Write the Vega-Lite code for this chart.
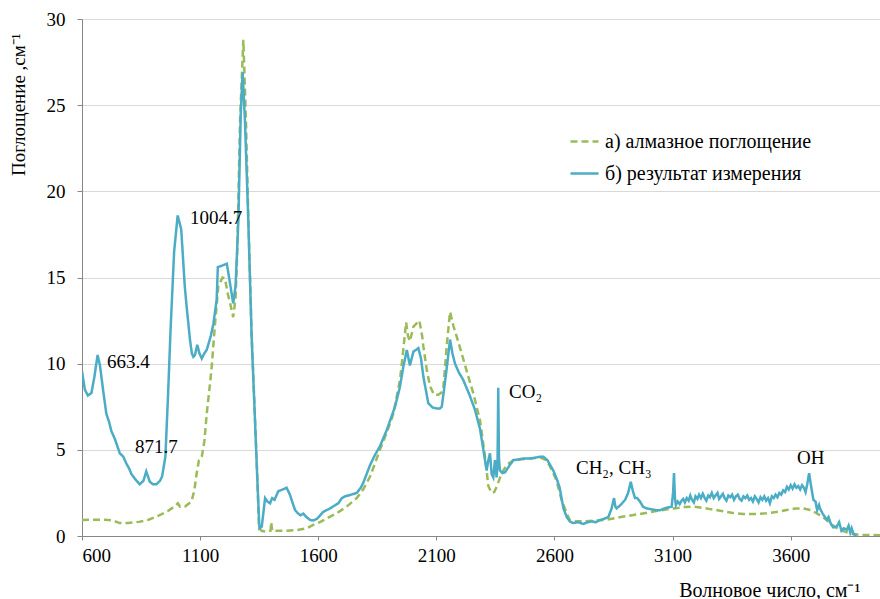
{
  "$schema": "https://vega.github.io/schema/vega-lite/v6.json",
  "width": 798,
  "height": 517,
  "autosize": {"type": "none"},
  "padding": {"left": 82, "top": 19, "right": 0, "bottom": 63},
  "background": "white",
  "config": {
    "view": {"stroke": null},
    "font": "Liberation Serif",
    "axis": {"labelFont": "Liberation Serif", "titleFont": "Liberation Serif", "labelColor": "#000", "titleColor": "#000", "titleFontWeight": "normal", "labelFontSize": 19, "titleFontSize": 19}
  },
  "datasets": {
    "spec": [
      {"wn": 600, "a": 0.93, "s": "а) алмазное поглощение"},
      {"wn": 640, "a": 0.95, "s": "а) алмазное поглощение"},
      {"wn": 696, "a": 0.95, "s": "а) алмазное поглощение"},
      {"wn": 730, "a": 0.9, "s": "а) алмазное поглощение"},
      {"wn": 760, "a": 0.75, "s": "а) алмазное поглощение"},
      {"wn": 795, "a": 0.75, "s": "а) алмазное поглощение"},
      {"wn": 840, "a": 0.82, "s": "а) алмазное поглощение"},
      {"wn": 879, "a": 0.93, "s": "а) алмазное поглощение"},
      {"wn": 920, "a": 1.15, "s": "а) алмазное поглощение"},
      {"wn": 964, "a": 1.45, "s": "а) алмазное поглощение"},
      {"wn": 990, "a": 1.7, "s": "а) алмазное поглощение"},
      {"wn": 1006, "a": 1.9, "s": "а) алмазное поглощение"},
      {"wn": 1015, "a": 1.7, "s": "а) алмазное поглощение"},
      {"wn": 1035, "a": 1.7, "s": "а) алмазное поглощение"},
      {"wn": 1063, "a": 2.0, "s": "а) алмазное поглощение"},
      {"wn": 1075, "a": 2.6, "s": "а) алмазное поглощение"},
      {"wn": 1085, "a": 3.6, "s": "а) алмазное поглощение"},
      {"wn": 1095, "a": 4.4, "s": "а) алмазное поглощение"},
      {"wn": 1107, "a": 4.6, "s": "а) алмазное поглощение"},
      {"wn": 1118, "a": 5.5, "s": "а) алмазное поглощение"},
      {"wn": 1128, "a": 7.1, "s": "а) алмазное поглощение"},
      {"wn": 1140, "a": 8.6, "s": "а) алмазное поглощение"},
      {"wn": 1149, "a": 9.8, "s": "а) алмазное поглощение"},
      {"wn": 1163, "a": 12.3, "s": "а) алмазное поглощение"},
      {"wn": 1177, "a": 14.5, "s": "а) алмазное поглощение"},
      {"wn": 1195, "a": 15.0, "s": "а) алмазное поглощение"},
      {"wn": 1205, "a": 14.95, "s": "а) алмазное поглощение"},
      {"wn": 1218, "a": 14.0, "s": "а) алмазное поглощение"},
      {"wn": 1227, "a": 13.5, "s": "а) алмазное поглощение"},
      {"wn": 1240, "a": 12.7, "s": "а) алмазное поглощение"},
      {"wn": 1250, "a": 13.8, "s": "а) алмазное поглощение"},
      {"wn": 1257, "a": 16.4, "s": "а) алмазное поглощение"},
      {"wn": 1269, "a": 24.1, "s": "а) алмазное поглощение"},
      {"wn": 1283, "a": 28.8, "s": "а) алмазное поглощение"},
      {"wn": 1294, "a": 24.1, "s": "а) алмазное поглощение"},
      {"wn": 1304, "a": 18.5, "s": "а) алмазное поглощение"},
      {"wn": 1318, "a": 11.7, "s": "а) алмазное поглощение"},
      {"wn": 1330, "a": 7.6, "s": "а) алмазное поглощение"},
      {"wn": 1340, "a": 4.2, "s": "а) алмазное поглощение"},
      {"wn": 1349, "a": 0.5, "s": "а) алмазное поглощение"},
      {"wn": 1360, "a": 0.3, "s": "а) алмазное поглощение"},
      {"wn": 1382, "a": 0.25, "s": "а) алмазное поглощение"},
      {"wn": 1398, "a": 0.3, "s": "а) алмазное поглощение"},
      {"wn": 1401, "a": 0.8, "s": "а) алмазное поглощение"},
      {"wn": 1405, "a": 0.3, "s": "а) алмазное поглощение"},
      {"wn": 1438, "a": 0.3, "s": "а) алмазное поглощение"},
      {"wn": 1466, "a": 0.3, "s": "а) алмазное поглощение"},
      {"wn": 1510, "a": 0.35, "s": "а) алмазное поглощение"},
      {"wn": 1551, "a": 0.45, "s": "а) алмазное поглощение"},
      {"wn": 1579, "a": 0.65, "s": "а) алмазное поглощение"},
      {"wn": 1607, "a": 0.8, "s": "а) алмазное поглощение"},
      {"wn": 1640, "a": 1.05, "s": "а) алмазное поглощение"},
      {"wn": 1678, "a": 1.32, "s": "а) алмазное поглощение"},
      {"wn": 1720, "a": 1.7, "s": "а) алмазное поглощение"},
      {"wn": 1763, "a": 2.2, "s": "а) алмазное поглощение"},
      {"wn": 1790, "a": 2.7, "s": "а) алмазное поглощение"},
      {"wn": 1819, "a": 3.44, "s": "а) алмазное поглощение"},
      {"wn": 1840, "a": 4.2, "s": "а) алмазное поглощение"},
      {"wn": 1861, "a": 5.0, "s": "а) алмазное поглощение"},
      {"wn": 1890, "a": 6.0, "s": "а) алмазное поглощение"},
      {"wn": 1918, "a": 7.1, "s": "а) алмазное поглощение"},
      {"wn": 1946, "a": 9.05, "s": "а) алмазное поглощение"},
      {"wn": 1960, "a": 10.8, "s": "а) алмазное поглощение"},
      {"wn": 1972, "a": 12.4, "s": "а) алмазное поглощение"},
      {"wn": 1980, "a": 11.6, "s": "а) алмазное поглощение"},
      {"wn": 1988, "a": 11.3, "s": "а) алмазное поглощение"},
      {"wn": 2003, "a": 12.15, "s": "а) алмазное поглощение"},
      {"wn": 2028, "a": 12.5, "s": "а) алмазное поглощение"},
      {"wn": 2040, "a": 11.6, "s": "а) алмазное поглощение"},
      {"wn": 2045, "a": 11.0, "s": "а) алмазное поглощение"},
      {"wn": 2060, "a": 9.6, "s": "а) алмазное поглощение"},
      {"wn": 2073, "a": 8.7, "s": "а) алмазное поглощение"},
      {"wn": 2090, "a": 8.2, "s": "а) алмазное поглощение"},
      {"wn": 2108, "a": 8.2, "s": "а) алмазное поглощение"},
      {"wn": 2120, "a": 8.3, "s": "а) алмазное поглощение"},
      {"wn": 2129, "a": 8.5, "s": "а) алмазное поглощение"},
      {"wn": 2145, "a": 11.2, "s": "а) алмазное поглощение"},
      {"wn": 2158, "a": 13.0, "s": "а) алмазное поглощение"},
      {"wn": 2172, "a": 12.2, "s": "а) алмазное поглощение"},
      {"wn": 2190, "a": 11.4, "s": "а) алмазное поглощение"},
      {"wn": 2207, "a": 10.6, "s": "а) алмазное поглощение"},
      {"wn": 2230, "a": 9.5, "s": "а) алмазное поглощение"},
      {"wn": 2256, "a": 8.3, "s": "а) алмазное поглощение"},
      {"wn": 2285, "a": 6.7, "s": "а) алмазное поглощение"},
      {"wn": 2306, "a": 4.6, "s": "а) алмазное поглощение"},
      {"wn": 2320, "a": 2.9, "s": "а) алмазное поглощение"},
      {"wn": 2334, "a": 2.5, "s": "а) алмазное поглощение"},
      {"wn": 2345, "a": 2.55, "s": "а) алмазное поглощение"},
      {"wn": 2355, "a": 2.85, "s": "а) алмазное поглощение"},
      {"wn": 2370, "a": 3.4, "s": "а) алмазное поглощение"},
      {"wn": 2383, "a": 3.8, "s": "а) алмазное поглощение"},
      {"wn": 2400, "a": 4.15, "s": "а) алмазное поглощение"},
      {"wn": 2426, "a": 4.4, "s": "а) алмазное поглощение"},
      {"wn": 2460, "a": 4.45, "s": "а) алмазное поглощение"},
      {"wn": 2500, "a": 4.5, "s": "а) алмазное поглощение"},
      {"wn": 2540, "a": 4.55, "s": "а) алмазное поглощение"},
      {"wn": 2567, "a": 4.4, "s": "а) алмазное поглощение"},
      {"wn": 2590, "a": 3.8, "s": "а) алмазное поглощение"},
      {"wn": 2609, "a": 3.2, "s": "а) алмазное поглощение"},
      {"wn": 2630, "a": 2.1, "s": "а) алмазное поглощение"},
      {"wn": 2652, "a": 1.3, "s": "а) алмазное поглощение"},
      {"wn": 2666, "a": 0.9, "s": "а) алмазное поглощение"},
      {"wn": 2690, "a": 0.85, "s": "а) алмазное поглощение"},
      {"wn": 2730, "a": 0.85, "s": "а) алмазное поглощение"},
      {"wn": 2780, "a": 0.9, "s": "а) алмазное поглощение"},
      {"wn": 2821, "a": 0.95, "s": "а) алмазное поглощение"},
      {"wn": 2880, "a": 1.1, "s": "а) алмазное поглощение"},
      {"wn": 2962, "a": 1.28, "s": "а) алмазное поглощение"},
      {"wn": 3030, "a": 1.45, "s": "а) алмазное поглощение"},
      {"wn": 3103, "a": 1.6, "s": "а) алмазное поглощение"},
      {"wn": 3150, "a": 1.68, "s": "а) алмазное поглощение"},
      {"wn": 3188, "a": 1.7, "s": "а) алмазное поглощение"},
      {"wn": 3216, "a": 1.66, "s": "а) алмазное поглощение"},
      {"wn": 3260, "a": 1.56, "s": "а) алмазное поглощение"},
      {"wn": 3301, "a": 1.47, "s": "а) алмазное поглощение"},
      {"wn": 3350, "a": 1.35, "s": "а) алмазное поглощение"},
      {"wn": 3399, "a": 1.27, "s": "а) алмазное поглощение"},
      {"wn": 3450, "a": 1.28, "s": "а) алмазное поглощение"},
      {"wn": 3499, "a": 1.32, "s": "а) алмазное поглощение"},
      {"wn": 3550, "a": 1.42, "s": "а) алмазное поглощение"},
      {"wn": 3583, "a": 1.51, "s": "а) алмазное поглощение"},
      {"wn": 3620, "a": 1.6, "s": "а) алмазное поглощение"},
      {"wn": 3653, "a": 1.6, "s": "а) алмазное поглощение"},
      {"wn": 3685, "a": 1.5, "s": "а) алмазное поглощение"},
      {"wn": 3710, "a": 1.32, "s": "а) алмазное поглощение"},
      {"wn": 3730, "a": 1.15, "s": "а) алмазное поглощение"},
      {"wn": 3752, "a": 0.93, "s": "а) алмазное поглощение"},
      {"wn": 3780, "a": 0.6, "s": "а) алмазное поглощение"},
      {"wn": 3809, "a": 0.35, "s": "а) алмазное поглощение"},
      {"wn": 3850, "a": 0.15, "s": "а) алмазное поглощение"},
      {"wn": 3894, "a": 0.06, "s": "а) алмазное поглощение"},
      {"wn": 3978, "a": 0.05, "s": "а) алмазное поглощение"},

      {"wn": 600, "a": 9.2, "s": "б) результат измерения"},
      {"wn": 603, "a": 9.3, "s": "б) результат измерения"},
      {"wn": 612, "a": 8.5, "s": "б) результат измерения"},
      {"wn": 625, "a": 8.15, "s": "б) результат измерения"},
      {"wn": 640, "a": 8.3, "s": "б) результат измерения"},
      {"wn": 652, "a": 9.2, "s": "б) результат измерения"},
      {"wn": 666, "a": 10.5, "s": "б) результат измерения"},
      {"wn": 676, "a": 9.9, "s": "б) результат измерения"},
      {"wn": 689, "a": 8.5, "s": "б) результат измерения"},
      {"wn": 703, "a": 7.1, "s": "б) результат измерения"},
      {"wn": 715, "a": 6.6, "s": "б) результат измерения"},
      {"wn": 724, "a": 6.1, "s": "б) результат измерения"},
      {"wn": 740, "a": 5.6, "s": "б) результат измерения"},
      {"wn": 760, "a": 4.8, "s": "б) результат измерения"},
      {"wn": 775, "a": 4.6, "s": "б) результат измерения"},
      {"wn": 788, "a": 4.2, "s": "б) результат измерения"},
      {"wn": 800, "a": 3.9, "s": "б) результат измерения"},
      {"wn": 809, "a": 3.6, "s": "б) результат измерения"},
      {"wn": 825, "a": 3.3, "s": "б) результат измерения"},
      {"wn": 844, "a": 3.0, "s": "б) результат измерения"},
      {"wn": 860, "a": 3.2, "s": "б) результат измерения"},
      {"wn": 872, "a": 3.75, "s": "б) результат измерения"},
      {"wn": 887, "a": 3.15, "s": "б) результат измерения"},
      {"wn": 900, "a": 3.0, "s": "б) результат измерения"},
      {"wn": 915, "a": 3.0, "s": "б) результат измерения"},
      {"wn": 930, "a": 3.2, "s": "б) результат измерения"},
      {"wn": 939, "a": 3.45, "s": "б) результат измерения"},
      {"wn": 953, "a": 4.6, "s": "б) результат измерения"},
      {"wn": 964, "a": 8.1, "s": "б) результат измерения"},
      {"wn": 975, "a": 12.0, "s": "б) результат измерения"},
      {"wn": 990, "a": 16.5, "s": "б) результат измерения"},
      {"wn": 1005, "a": 18.6, "s": "б) результат измерения"},
      {"wn": 1020, "a": 17.8, "s": "б) результат измерения"},
      {"wn": 1035, "a": 14.5, "s": "б) результат измерения"},
      {"wn": 1043, "a": 13.3, "s": "б) результат измерения"},
      {"wn": 1057, "a": 11.4, "s": "б) результат измерения"},
      {"wn": 1065, "a": 10.6, "s": "б) результат измерения"},
      {"wn": 1071, "a": 10.4, "s": "б) результат измерения"},
      {"wn": 1078, "a": 10.5, "s": "б) результат измерения"},
      {"wn": 1088, "a": 11.1, "s": "б) результат измерения"},
      {"wn": 1097, "a": 10.6, "s": "б) результат измерения"},
      {"wn": 1107, "a": 10.3, "s": "б) результат измерения"},
      {"wn": 1118, "a": 10.6, "s": "б) результат измерения"},
      {"wn": 1128, "a": 10.8, "s": "б) результат измерения"},
      {"wn": 1145, "a": 11.6, "s": "б) результат измерения"},
      {"wn": 1156, "a": 12.3, "s": "б) результат измерения"},
      {"wn": 1170, "a": 13.7, "s": "б) результат измерения"},
      {"wn": 1175, "a": 15.6, "s": "б) результат измерения"},
      {"wn": 1195, "a": 15.7, "s": "б) результат измерения"},
      {"wn": 1213, "a": 15.8, "s": "б) результат измерения"},
      {"wn": 1225, "a": 14.8, "s": "б) результат измерения"},
      {"wn": 1240, "a": 13.5, "s": "б) результат измерения"},
      {"wn": 1250, "a": 14.5, "s": "б) результат измерения"},
      {"wn": 1262, "a": 18.3, "s": "б) результат измерения"},
      {"wn": 1272, "a": 24.5, "s": "б) результат измерения"},
      {"wn": 1280, "a": 26.9, "s": "б) результат измерения"},
      {"wn": 1290, "a": 24.0, "s": "б) результат измерения"},
      {"wn": 1304, "a": 18.3, "s": "б) результат измерения"},
      {"wn": 1318, "a": 11.6, "s": "б) результат измерения"},
      {"wn": 1330, "a": 7.5, "s": "б) результат измерения"},
      {"wn": 1340, "a": 4.0, "s": "б) результат измерения"},
      {"wn": 1351, "a": 0.45, "s": "б) результат измерения"},
      {"wn": 1361, "a": 0.55, "s": "б) результат измерения"},
      {"wn": 1375, "a": 2.2, "s": "б) результат измерения"},
      {"wn": 1385, "a": 2.0, "s": "б) результат измерения"},
      {"wn": 1396, "a": 1.9, "s": "б) результат измерения"},
      {"wn": 1405, "a": 2.2, "s": "б) результат измерения"},
      {"wn": 1415, "a": 2.1, "s": "б) результат измерения"},
      {"wn": 1431, "a": 2.6, "s": "б) результат измерения"},
      {"wn": 1450, "a": 2.7, "s": "б) результат измерения"},
      {"wn": 1466, "a": 2.8, "s": "б) результат измерения"},
      {"wn": 1480, "a": 2.4, "s": "б) результат измерения"},
      {"wn": 1492, "a": 1.9, "s": "б) результат измерения"},
      {"wn": 1502, "a": 1.5, "s": "б) результат измерения"},
      {"wn": 1515, "a": 1.3, "s": "б) результат измерения"},
      {"wn": 1525, "a": 1.2, "s": "б) результат измерения"},
      {"wn": 1537, "a": 1.3, "s": "б) результат измерения"},
      {"wn": 1550, "a": 1.1, "s": "б) результат измерения"},
      {"wn": 1566, "a": 0.93, "s": "б) результат измерения"},
      {"wn": 1579, "a": 0.9, "s": "б) результат измерения"},
      {"wn": 1595, "a": 1.0, "s": "б) результат измерения"},
      {"wn": 1621, "a": 1.4, "s": "б) результат измерения"},
      {"wn": 1650, "a": 1.6, "s": "б) результат измерения"},
      {"wn": 1685, "a": 1.9, "s": "б) результат измерения"},
      {"wn": 1700, "a": 2.2, "s": "б) результат измерения"},
      {"wn": 1713, "a": 2.3, "s": "б) результат измерения"},
      {"wn": 1740, "a": 2.4, "s": "б) результат измерения"},
      {"wn": 1763, "a": 2.5, "s": "б) результат измерения"},
      {"wn": 1780, "a": 2.8, "s": "б) результат измерения"},
      {"wn": 1791, "a": 3.1, "s": "б) результат измерения"},
      {"wn": 1805, "a": 3.6, "s": "б) результат измерения"},
      {"wn": 1819, "a": 4.1, "s": "б) результат измерения"},
      {"wn": 1840, "a": 4.7, "s": "б) результат измерения"},
      {"wn": 1861, "a": 5.2, "s": "б) результат измерения"},
      {"wn": 1890, "a": 6.15, "s": "б) результат измерения"},
      {"wn": 1925, "a": 7.5, "s": "б) результат измерения"},
      {"wn": 1945, "a": 8.6, "s": "б) результат измерения"},
      {"wn": 1960, "a": 9.8, "s": "б) результат измерения"},
      {"wn": 1975, "a": 10.8, "s": "б) результат измерения"},
      {"wn": 1988, "a": 9.9, "s": "б) результат измерения"},
      {"wn": 2003, "a": 10.7, "s": "б) результат измерения"},
      {"wn": 2024, "a": 10.9, "s": "б) результат измерения"},
      {"wn": 2035, "a": 10.3, "s": "б) результат измерения"},
      {"wn": 2045, "a": 9.25, "s": "б) результат измерения"},
      {"wn": 2066, "a": 7.7, "s": "б) результат измерения"},
      {"wn": 2085, "a": 7.45, "s": "б) результат измерения"},
      {"wn": 2101, "a": 7.4, "s": "б) результат измерения"},
      {"wn": 2115, "a": 7.4, "s": "б) результат измерения"},
      {"wn": 2123, "a": 7.5, "s": "б) результат измерения"},
      {"wn": 2141, "a": 9.4, "s": "б) результат измерения"},
      {"wn": 2158, "a": 11.4, "s": "б) результат измерения"},
      {"wn": 2168, "a": 10.6, "s": "б) результат измерения"},
      {"wn": 2179, "a": 10.0, "s": "б) результат измерения"},
      {"wn": 2195, "a": 9.5, "s": "б) результат измерения"},
      {"wn": 2214, "a": 9.05, "s": "б) результат измерения"},
      {"wn": 2240, "a": 8.2, "s": "б) результат измерения"},
      {"wn": 2264, "a": 7.3, "s": "б) результат измерения"},
      {"wn": 2285, "a": 6.2, "s": "б) результат измерения"},
      {"wn": 2299, "a": 5.0, "s": "б) результат измерения"},
      {"wn": 2313, "a": 3.8, "s": "б) результат измерения"},
      {"wn": 2320, "a": 4.4, "s": "б) результат измерения"},
      {"wn": 2327, "a": 4.8, "s": "б) результат измерения"},
      {"wn": 2334, "a": 3.6, "s": "б) результат измерения"},
      {"wn": 2341, "a": 3.4, "s": "б) результат измерения"},
      {"wn": 2348, "a": 4.4, "s": "б) результат измерения"},
      {"wn": 2355, "a": 3.4, "s": "б) результат измерения"},
      {"wn": 2359, "a": 4.2, "s": "б) результат измерения"},
      {"wn": 2362, "a": 8.6, "s": "б) результат измерения"},
      {"wn": 2365, "a": 4.5, "s": "б) результат измерения"},
      {"wn": 2369, "a": 3.8, "s": "б) результат измерения"},
      {"wn": 2380, "a": 3.65, "s": "б) результат измерения"},
      {"wn": 2391, "a": 3.7, "s": "б) результат измерения"},
      {"wn": 2410, "a": 4.1, "s": "б) результат измерения"},
      {"wn": 2426, "a": 4.4, "s": "б) результат измерения"},
      {"wn": 2450, "a": 4.45, "s": "б) результат измерения"},
      {"wn": 2470, "a": 4.5, "s": "б) результат измерения"},
      {"wn": 2496, "a": 4.5, "s": "б) результат измерения"},
      {"wn": 2520, "a": 4.55, "s": "б) результат измерения"},
      {"wn": 2540, "a": 4.6, "s": "б) результат измерения"},
      {"wn": 2553, "a": 4.6, "s": "б) результат измерения"},
      {"wn": 2570, "a": 4.4, "s": "б) результат измерения"},
      {"wn": 2595, "a": 3.8, "s": "б) результат измерения"},
      {"wn": 2610, "a": 3.3, "s": "б) результат измерения"},
      {"wn": 2622, "a": 2.8, "s": "б) результат измерения"},
      {"wn": 2638, "a": 1.6, "s": "б) результат измерения"},
      {"wn": 2652, "a": 1.1, "s": "б) результат измерения"},
      {"wn": 2666, "a": 0.83, "s": "б) результат измерения"},
      {"wn": 2680, "a": 0.75, "s": "б) результат измерения"},
      {"wn": 2700, "a": 0.8, "s": "б) результат измерения"},
      {"wn": 2722, "a": 0.7, "s": "б) результат измерения"},
      {"wn": 2740, "a": 0.8, "s": "б) результат измерения"},
      {"wn": 2760, "a": 0.85, "s": "б) результат измерения"},
      {"wn": 2775, "a": 0.8, "s": "б) результат измерения"},
      {"wn": 2793, "a": 0.93, "s": "б) результат измерения"},
      {"wn": 2810, "a": 1.0, "s": "б) результат измерения"},
      {"wn": 2828, "a": 1.1, "s": "б) результат измерения"},
      {"wn": 2842, "a": 1.6, "s": "б) результат измерения"},
      {"wn": 2852, "a": 2.2, "s": "б) результат измерения"},
      {"wn": 2858, "a": 1.7, "s": "б) результат измерения"},
      {"wn": 2863, "a": 1.6, "s": "б) результат измерения"},
      {"wn": 2880, "a": 1.8, "s": "б) результат измерения"},
      {"wn": 2899, "a": 2.1, "s": "б) результат измерения"},
      {"wn": 2912, "a": 2.5, "s": "б) результат измерения"},
      {"wn": 2923, "a": 3.15, "s": "б) результат измерения"},
      {"wn": 2932, "a": 2.6, "s": "б) результат измерения"},
      {"wn": 2941, "a": 2.2, "s": "б) результат измерения"},
      {"wn": 2950, "a": 2.2, "s": "б) результат измерения"},
      {"wn": 2962, "a": 2.0, "s": "б) результат измерения"},
      {"wn": 2975, "a": 1.7, "s": "б) результат измерения"},
      {"wn": 2990, "a": 1.6, "s": "б) результат измерения"},
      {"wn": 3010, "a": 1.55, "s": "б) результат измерения"},
      {"wn": 3030, "a": 1.5, "s": "б) результат измерения"},
      {"wn": 3047, "a": 1.5, "s": "б) результат измерения"},
      {"wn": 3065, "a": 1.6, "s": "б) результат измерения"},
      {"wn": 3080, "a": 1.65, "s": "б) результат измерения"},
      {"wn": 3096, "a": 1.7, "s": "б) результат измерения"},
      {"wn": 3102, "a": 2.5, "s": "б) результат измерения"},
      {"wn": 3106, "a": 3.65, "s": "б) результат измерения"},
      {"wn": 3110, "a": 2.2, "s": "б) результат измерения"},
      {"wn": 3114, "a": 1.8, "s": "б) результат измерения"},
      {"wn": 3122, "a": 2.0, "s": "б) результат измерения"},
      {"wn": 3130, "a": 1.85, "s": "б) результат измерения"},
      {"wn": 3138, "a": 2.05, "s": "б) результат измерения"},
      {"wn": 3145, "a": 2.15, "s": "б) результат измерения"},
      {"wn": 3152, "a": 1.95, "s": "б) результат измерения"},
      {"wn": 3160, "a": 2.2, "s": "б) результат измерения"},
      {"wn": 3168, "a": 2.05, "s": "б) результат измерения"},
      {"wn": 3175, "a": 2.35, "s": "б) результат измерения"},
      {"wn": 3182, "a": 2.1, "s": "б) результат измерения"},
      {"wn": 3190, "a": 1.95, "s": "б) результат измерения"},
      {"wn": 3197, "a": 2.3, "s": "б) результат измерения"},
      {"wn": 3205, "a": 2.15, "s": "б) результат измерения"},
      {"wn": 3212, "a": 2.4, "s": "б) результат измерения"},
      {"wn": 3220, "a": 2.2, "s": "б) результат измерения"},
      {"wn": 3228, "a": 2.45, "s": "б) результат измерения"},
      {"wn": 3236, "a": 2.2, "s": "б) результат измерения"},
      {"wn": 3243, "a": 2.05, "s": "б) результат измерения"},
      {"wn": 3251, "a": 2.35, "s": "б) результат измерения"},
      {"wn": 3258, "a": 2.25, "s": "б) результат измерения"},
      {"wn": 3266, "a": 2.5, "s": "б) результат измерения"},
      {"wn": 3274, "a": 2.2, "s": "б) результат измерения"},
      {"wn": 3282, "a": 2.35, "s": "б) результат измерения"},
      {"wn": 3290, "a": 2.5, "s": "б) результат измерения"},
      {"wn": 3297, "a": 2.15, "s": "б) результат измерения"},
      {"wn": 3305, "a": 2.3, "s": "б) результат измерения"},
      {"wn": 3313, "a": 2.45, "s": "б) результат измерения"},
      {"wn": 3320, "a": 2.2, "s": "б) результат измерения"},
      {"wn": 3328, "a": 2.05, "s": "б) результат измерения"},
      {"wn": 3336, "a": 2.35, "s": "б) результат измерения"},
      {"wn": 3344, "a": 2.25, "s": "б) результат измерения"},
      {"wn": 3352, "a": 2.4, "s": "б) результат измерения"},
      {"wn": 3360, "a": 2.1, "s": "б) результат измерения"},
      {"wn": 3368, "a": 2.3, "s": "б) результат измерения"},
      {"wn": 3376, "a": 2.4, "s": "б) результат измерения"},
      {"wn": 3384, "a": 2.15, "s": "б) результат измерения"},
      {"wn": 3392, "a": 2.05, "s": "б) результат измерения"},
      {"wn": 3400, "a": 2.3, "s": "б) результат измерения"},
      {"wn": 3408, "a": 2.2, "s": "б) результат измерения"},
      {"wn": 3416, "a": 2.35, "s": "б) результат измерения"},
      {"wn": 3424, "a": 2.1, "s": "б) результат измерения"},
      {"wn": 3432, "a": 2.2, "s": "б) результат измерения"},
      {"wn": 3440, "a": 2.0, "s": "б) результат измерения"},
      {"wn": 3448, "a": 2.3, "s": "б) результат измерения"},
      {"wn": 3456, "a": 2.15, "s": "б) результат измерения"},
      {"wn": 3464, "a": 1.95, "s": "б) результат измерения"},
      {"wn": 3472, "a": 2.25, "s": "б) результат измерения"},
      {"wn": 3480, "a": 2.1, "s": "б) результат измерения"},
      {"wn": 3488, "a": 2.3, "s": "б) результат измерения"},
      {"wn": 3496, "a": 2.05, "s": "б) результат измерения"},
      {"wn": 3504, "a": 2.2, "s": "б) результат измерения"},
      {"wn": 3512, "a": 1.9, "s": "б) результат измерения"},
      {"wn": 3520, "a": 2.3, "s": "б) результат измерения"},
      {"wn": 3528, "a": 2.2, "s": "б) результат измерения"},
      {"wn": 3536, "a": 2.4, "s": "б) результат измерения"},
      {"wn": 3544, "a": 2.25, "s": "б) результат измерения"},
      {"wn": 3552, "a": 2.5, "s": "б) результат измерения"},
      {"wn": 3560, "a": 2.4, "s": "б) результат измерения"},
      {"wn": 3568, "a": 2.65, "s": "б) результат измерения"},
      {"wn": 3576, "a": 2.55, "s": "б) результат измерения"},
      {"wn": 3584, "a": 2.85, "s": "б) результат измерения"},
      {"wn": 3592, "a": 2.7, "s": "б) результат измерения"},
      {"wn": 3600, "a": 2.95, "s": "б) результат измерения"},
      {"wn": 3608, "a": 2.75, "s": "б) результат измерения"},
      {"wn": 3616, "a": 3.0, "s": "б) результат измерения"},
      {"wn": 3624, "a": 2.8, "s": "б) результат измерения"},
      {"wn": 3632, "a": 2.9, "s": "б) результат измерения"},
      {"wn": 3640, "a": 2.7, "s": "б) результат измерения"},
      {"wn": 3648, "a": 2.95, "s": "б) результат измерения"},
      {"wn": 3656, "a": 2.8, "s": "б) результат измерения"},
      {"wn": 3663, "a": 2.55, "s": "б) результат измерения"},
      {"wn": 3670, "a": 3.0, "s": "б) результат измерения"},
      {"wn": 3678, "a": 3.65, "s": "б) результат измерения"},
      {"wn": 3685, "a": 3.0, "s": "б) результат измерения"},
      {"wn": 3696, "a": 2.1, "s": "б) результат измерения"},
      {"wn": 3705, "a": 2.0, "s": "б) результат измерения"},
      {"wn": 3712, "a": 1.5, "s": "б) результат измерения"},
      {"wn": 3720, "a": 1.8, "s": "б) результат измерения"},
      {"wn": 3724, "a": 1.6, "s": "б) результат измерения"},
      {"wn": 3735, "a": 1.3, "s": "б) результат измерения"},
      {"wn": 3745, "a": 1.1, "s": "б) результат измерения"},
      {"wn": 3752, "a": 0.95, "s": "б) результат измерения"},
      {"wn": 3760, "a": 1.1, "s": "б) результат измерения"},
      {"wn": 3770, "a": 0.7, "s": "б) результат измерения"},
      {"wn": 3780, "a": 0.5, "s": "б) результат измерения"},
      {"wn": 3795, "a": 0.55, "s": "б) результат измерения"},
      {"wn": 3805, "a": 0.8, "s": "б) результат измерения"},
      {"wn": 3815, "a": 0.3, "s": "б) результат измерения"},
      {"wn": 3825, "a": 0.45, "s": "б) результат измерения"},
      {"wn": 3837, "a": 0.35, "s": "б) результат измерения"},
      {"wn": 3845, "a": 0.6, "s": "б) результат измерения"},
      {"wn": 3852, "a": 0.2, "s": "б) результат измерения"},
      {"wn": 3858, "a": 0.45, "s": "б) результат измерения"},
      {"wn": 3866, "a": 0.1, "s": "б) результат измерения"},
      {"wn": 3879, "a": 0.05, "s": "б) результат измерения"}
    ],
    "labels": [
      {"wn": 1057, "a": 18.45, "t": "1004.7"},
      {"wn": 706, "a": 10.1, "t": "663.4"},
      {"wn": 824, "a": 5.16, "t": "871.7"},
      {"wn": 2408, "a": 8.36, "t": "CO₂"},
      {"wn": 2691, "a": 3.95, "t": "CH₂, CH₃"},
      {"wn": 3627, "a": 4.53, "t": "OH"}
    ]
  },
  "layer": [
    {
      "data": {"name": "spec"},
      "mark": {"type": "line", "strokeWidth": 2.5, "clip": true, "interpolate": "linear"},
      "encoding": {
        "x": {
          "field": "wn", "type": "quantitative",
          "scale": {"domain": [600, 3978], "nice": false, "zero": false},
          "axis": {
            "values": [600, 1100, 1600, 2100, 2600, 3100, 3600],
            "format": "d",
            "grid": false,
            "labelFont": "Liberation Serif",
            "titleFont": "Liberation Serif",
            "titleFontSize": 20,
            "domainColor": "#868686",
            "tickColor": "#868686",
            "tickSize": 4,
            "labelPadding": 6,
            "title": "Волновое число, см⁻¹",
            "titleAnchor": "end",
            "titleAlign": "right",
            "titleBaseline": "middle",
            "titleX": 778,
            "titleY": 54
          }
        },
        "y": {
          "field": "a", "type": "quantitative",
          "scale": {"domain": [0, 30], "nice": false},
          "axis": {
            "values": [0, 5, 10, 15, 20, 25, 30],
            "grid": true,
            "gridColor": "#d9d9d9",
            "labelFont": "Liberation Serif",
            "titleFont": "Liberation Serif",
            "domainColor": "#868686",
            "tickColor": "#868686",
            "tickSize": 5,
            "labelPadding": 12,
            "title": "Поглощение ,см⁻¹",
            "titleAnchor": "end",
            "titleAlign": "right",
            "titleAngle": -90,
            "titleBaseline": "middle",
            "titleX": -64,
            "titleY": 14
          }
        },
        "color": {
          "field": "s", "type": "nominal",
          "scale": {"domain": ["а) алмазное поглощение", "б) результат измерения"], "range": ["#9BBB59", "#4BACC6"]},
          "legend": {
            "orient": "none",
            "legendX": 487,
            "legendY": 107,
            "title": null,
            "symbolType": "stroke",
            "symbolSize": 784,
            "symbolStrokeWidth": 2.5,
            "labelFont": "Liberation Serif",
            "labelFontSize": 20,
            "labelColor": "#000",
            "labelLimit": 0,
            "labelOffset": 5,
            "rowPadding": 6,
            "padding": 0
          }
        },
        "strokeDash": {
          "field": "s", "type": "nominal",
          "scale": {"domain": ["а) алмазное поглощение", "б) результат измерения"], "range": [[7, 4], [1, 0]]},
          "legend": null
        }
      }
    },
    {
      "data": {"name": "labels"},
      "mark": {"type": "text", "align": "left", "baseline": "middle", "font": "Liberation Serif", "fontSize": 19, "color": "#000"},
      "encoding": {
        "x": {"field": "wn", "type": "quantitative"},
        "y": {"field": "a", "type": "quantitative"},
        "text": {"field": "t"}
      }
    }
  ]
}
